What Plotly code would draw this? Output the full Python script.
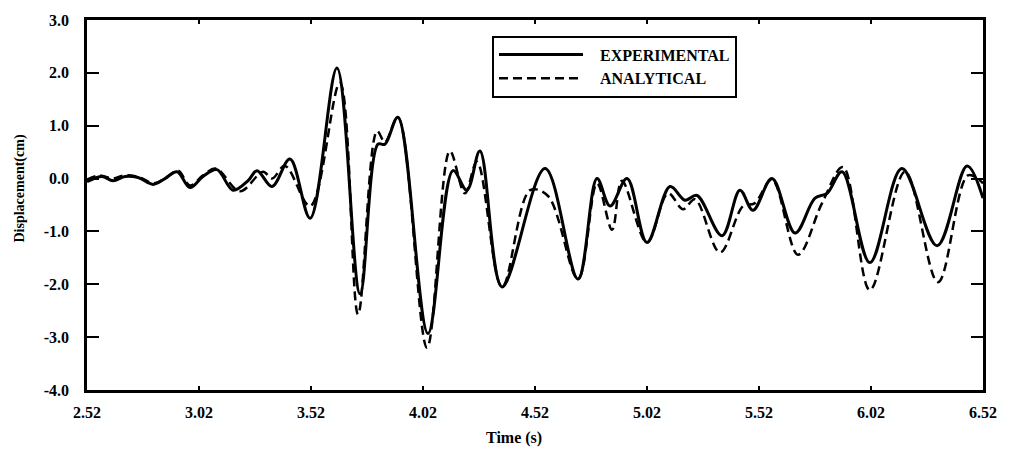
import plotly.graph_objects as go

# Experimental (solid) trace
exp_t = [2.52, 2.587, 2.636, 2.690, 2.748, 2.815, 2.868, 2.922, 2.980, 3.038, 3.100, 3.172,
         3.239, 3.279, 3.346, 3.426, 3.516, 3.636, 3.739, 3.819, 3.850, 3.908, 4.042, 4.154,
         4.216, 4.274, 4.373, 4.565, 4.712, 4.797, 4.855, 4.931, 5.020, 5.123, 5.190, 5.243,
         5.355, 5.435, 5.493, 5.578, 5.681, 5.770, 5.824, 5.891, 6.015, 6.158, 6.315, 6.449, 6.52]
exp_v = [-0.06, 0.04, -0.04, 0.04, 0.02, -0.11, 0.0, 0.13, -0.17, 0.04, 0.17, -0.22,
         -0.04, 0.15, -0.15, 0.37, -0.75, 2.09, -2.18, 0.65, 0.65, 1.16, -2.93, 0.15,
         -0.22, 0.52, -2.05, 0.19, -1.90, 0.0, -0.52, 0.0, -1.21, -0.15, -0.41, -0.32,
         -1.08, -0.22, -0.60, 0.0, -1.03, -0.37, -0.28, 0.13, -1.59, 0.19, -1.27, 0.24, -0.37]

# Analytical (dashed) trace
ana_t = [2.52, 2.578, 2.632, 2.690, 2.757, 2.815, 2.868, 2.926, 2.980, 3.038, 3.096, 3.203,
         3.306, 3.346, 3.404, 3.516, 3.649, 3.730, 3.815, 3.850, 3.908, 4.038, 4.140, 4.207,
         4.261, 4.373, 4.498, 4.578, 4.712, 4.797, 4.864, 4.908, 5.020, 5.114, 5.181, 5.234,
         5.346, 5.449, 5.500, 5.578, 5.694, 5.801, 5.895, 6.015, 6.172, 6.319, 6.453, 6.52]
ana_v = [-0.02, 0.06, 0.0, 0.06, 0.02, -0.09, 0.0, 0.15, -0.13, 0.06, 0.19, -0.24,
         0.13, 0.0, 0.24, -0.52, 1.81, -2.57, 0.90, 0.69, 1.16, -3.20, 0.52, -0.28,
         0.32, -2.05, -0.22, -0.33, -1.90, -0.09, -0.97, -0.04, -1.21, -0.28, -0.58, -0.39,
         -1.40, -0.52, -0.47, -0.02, -1.44, -0.47, 0.22, -2.11, 0.13, -1.96, 0.06, -0.09]

x_ticks = [2.52, 3.02, 3.52, 4.02, 4.52, 5.02, 5.52, 6.02, 6.52]
x_labels = ["2.52", "3.02", "3.52", "4.02", "4.52", "5.02", "5.52", "6.02", "6.52"]
y_ticks = [3.0, 2.0, 1.0, 0.0, -1.0, -2.0, -3.0, -4.0]
y_labels = ["3.0", "2.0", "1.0", "0.0", "-1.0", "-2.0", "-3.0", "-4.0"]

FONT = "Liberation Serif"
NB = "\u00a0\u00a0\u00a0"

fig = go.Figure()
fig.add_trace(go.Scatter(x=exp_t, y=exp_v, mode="lines", name=NB + "EXPERIMENTAL",
                         line=dict(color="black", width=3, shape="spline", smoothing=1.0)))
fig.add_trace(go.Scatter(x=ana_t, y=ana_v, mode="lines", name=NB + "ANALYTICAL",
                         line=dict(color="black", width=2.5, dash="9px,5px",
                                   shape="spline", smoothing=1.0)))

fig.update_layout(
    width=1013, height=451,
    margin=dict(l=87, r=30, t=15, b=61),
    plot_bgcolor="white", paper_bgcolor="white",
    font=dict(family=FONT, color="black", size=16, weight="bold"),
    showlegend=True,
    legend=dict(x=0.452, y=0.958, xanchor="left", yanchor="top",
                bordercolor="black", borderwidth=2, bgcolor="white",
                font=dict(family=FONT, size=16, weight="bold", color="black"),
                itemwidth=84, tracegroupgap=0),
    xaxis=dict(range=[2.52, 6.52], tickvals=x_ticks, ticktext=x_labels,
               showline=True, linecolor="black", linewidth=2.5, mirror="ticks",
               ticks="inside", ticklen=4, tickwidth=2, tickcolor="black",
               showgrid=False, zeroline=False, ticklabelstandoff=6,
               tickfont=dict(family=FONT, size=16, weight="bold")),
    yaxis=dict(range=[-4.0, 3.0], tickvals=y_ticks, ticktext=y_labels,
               showline=True, linecolor="black", linewidth=2.5, mirror="ticks",
               ticks="inside", ticklen=12, tickwidth=2, tickcolor="black",
               showgrid=False, zeroline=False, ticklabelstandoff=12,
               tickfont=dict(family=FONT, size=16, weight="bold")),
    annotations=[
        dict(text="Time (s)", xref="paper", yref="paper", x=(514 - 87) / 896, y=-0.13,
             xanchor="center", yanchor="middle", showarrow=False,
             font=dict(family=FONT, size=16, weight="bold")),
        dict(text="Displacement(cm)", xref="paper", yref="paper", x=-0.075, y=(390 - 186) / 375,
             xanchor="center", yanchor="middle", textangle=-90, showarrow=False,
             font=dict(family=FONT, size=14, weight="bold")),
    ],
)

fig.write_html("out.html")
